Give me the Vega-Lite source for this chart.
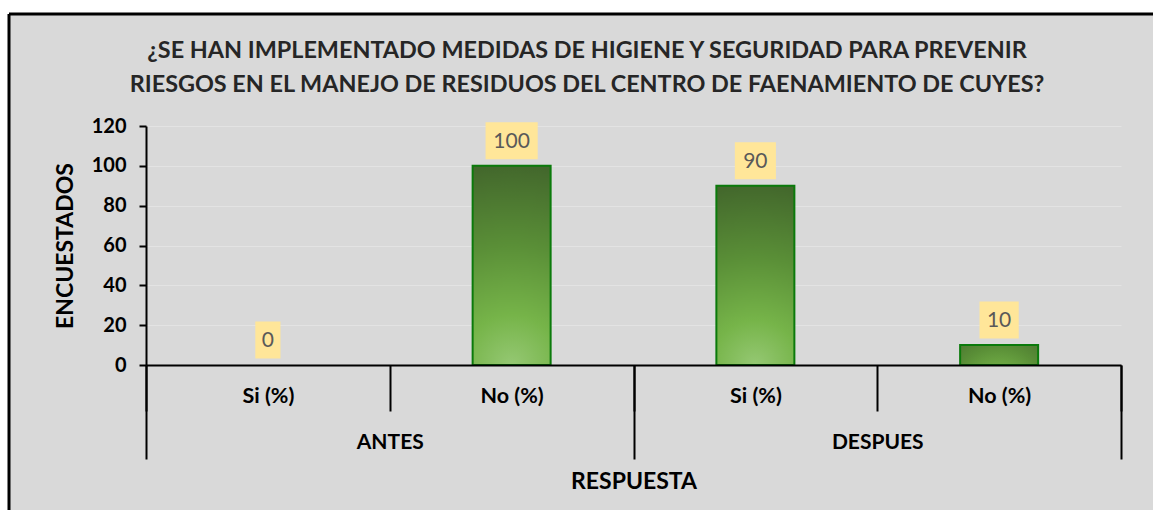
{
  "$schema": "https://vega.github.io/schema/vega-lite/v6.json",
  "autosize": "none",
  "padding": {"left": 9, "top": 14, "right": 0, "bottom": 0},
  "width": 1144,
  "height": 496,
  "background": "white",
  "config": {
    "view": {"fill": "#d9d9d9", "stroke": "black", "strokeWidth": 3, "strokeDash": [1144, 1640, 496, 0]},
    "font": "Lato"
  },
  "title": {
    "text": ["¿SE HAN IMPLEMENTADO MEDIDAS DE HIGIENE Y SEGURIDAD PARA PREVENIR", "RIESGOS EN EL MANEJO DE RESIDUOS DEL CENTRO DE FAENAMIENTO DE CUYES?"],
    "anchor": "middle",
    "frame": "group",
    "offset": -83,
    "dx": 6,
    "font": "Lato",
    "fontSize": 23.4,
    "fontWeight": "bold",
    "color": "#262626",
    "lineHeight": 34
  },
  "data": {
    "values": [
      {"clave": "Si (%)|ANTES", "respuesta": "Si (%)", "momento": "ANTES", "encuestados": 0},
      {"clave": "No (%)|ANTES", "respuesta": "No (%)", "momento": "ANTES", "encuestados": 100},
      {"clave": "Si (%)|DESPUES", "respuesta": "Si (%)", "momento": "DESPUES", "encuestados": 90},
      {"clave": "No (%)|DESPUES", "respuesta": "No (%)", "momento": "DESPUES", "encuestados": 10}
    ]
  },
  "encoding": {
    "y": {
      "field": "encuestados",
      "type": "quantitative",
      "scale": {"domain": [0, 120], "range": [351, 112], "nice": false, "zero": true},
      "axis": {
        "values": [0, 20, 40, 60, 80, 100, 120],
        "offset": -137,
        "title": "ENCUESTADOS",
        "tickSize": 7,
        "tickWidth": 2,
        "tickColor": "black",
        "domainColor": "black",
        "domainWidth": 2,
        "labelPadding": 13,
        "labelFont": "Lato",
        "labelFontSize": 20,
        "labelFontWeight": "bold",
        "labelColor": "black",
        "titleFont": "Lato",
        "titleFontSize": 23,
        "titleFontWeight": "bold",
        "titleColor": "black",
        "titlePadding": 14,
        "grid": true,
        "gridColor": "#e3e3e3",
        "gridWidth": 1
      }
    }
  },
  "layer": [
    {
      "encoding": {
        "x": {
          "field": "clave",
          "type": "nominal",
          "sort": null,
          "scale": {"domain": ["Si (%)|ANTES", "No (%)|ANTES", "Si (%)|DESPUES", "No (%)|DESPUES"], "range": [137, 1112], "paddingInner": 0, "paddingOuter": 0},
          "axis": {
            "orient": "bottom",
            "offset": -145,
            "title": null,
            "labelExpr": "datum.value ? split(datum.value, '|')[0] : ''",
            "tickBand": "extent",
            "tickSize": 46,
            "tickWidth": 2,
            "tickColor": "black",
            "domainColor": "black",
            "domainWidth": 2,
            "labelBaseline": "middle",
            "labelPadding": -15,
            "labelFont": "Lato",
            "labelFontSize": 21.5,
            "labelFontWeight": "bold",
            "labelColor": "black",
            "labelAngle": 0,
            "grid": false,
            "zindex": 1
          }
        }
      },
      "layer": [
        {
          "transform": [{"filter": "datum.encuestados > 0"}],
          "mark": {
            "type": "bar",
            "width": {"band": 0.32},
            "fill": {
              "gradient": "radial",
              "x1": 0.5, "y1": 1, "r1": 0,
              "x2": 0.5, "y2": 1, "r2": 1,
              "stops": [
                {"offset": 0, "color": "#95c873"},
                {"offset": 0.25, "color": "#76b449"},
                {"offset": 0.6, "color": "#5a8f37"},
                {"offset": 1, "color": "#43682c"}
              ]
            },
            "stroke": "#0b7a0b",
            "strokeWidth": 2
          }
        },
        {
          "mark": {"type": "point", "filled": true, "fill": "#ffe699", "opacity": 1, "strokeWidth": 0, "size": 1369, "yOffset": -25},
          "encoding": {
            "shape": {
              "field": "clave",
              "type": "nominal",
              "scale": {
                "domain": ["Si (%)|ANTES", "No (%)|ANTES", "Si (%)|DESPUES", "No (%)|DESPUES"],
                "range": ["M-0.68,-1L0.68,-1L0.68,1L-0.68,1Z", "M-1.41,-1L1.41,-1L1.41,1L-1.41,1Z", "M-1.11,-1L1.11,-1L1.11,1L-1.11,1Z", "M-1.06,-1L1.06,-1L1.06,1L-1.06,1Z"]
              },
              "legend": null
            }
          }
        },
        {
          "mark": {"type": "text", "yOffset": -24, "baseline": "middle", "align": "center", "font": "Lato", "fontSize": 21, "color": "#595959"},
          "encoding": {"text": {"field": "encuestados", "type": "quantitative"}}
        }
      ]
    },
    {
      "mark": {"type": "point", "opacity": 0},
      "encoding": {
        "x": {
          "field": "momento",
          "type": "nominal",
          "sort": null,
          "scale": {"domain": ["ANTES", "DESPUES"], "range": [137, 1112], "paddingInner": 0, "paddingOuter": 0},
          "axis": {
            "orient": "bottom",
            "offset": -145,
            "title": "RESPUESTA",
            "tickBand": "extent",
            "tickSize": 94,
            "tickWidth": 2,
            "tickColor": "black",
            "domain": false,
            "labelExpr": "datum.value ? datum.value : ''",
            "labelBaseline": "middle",
            "labelPadding": -17,
            "labelFont": "Lato",
            "labelFontSize": 21,
            "labelFontWeight": "bold",
            "labelColor": "black",
            "labelAngle": 0,
            "titleFont": "Lato",
            "titleFontSize": 23,
            "titleFontWeight": "bold",
            "titleColor": "black",
            "titlePadding": 10,
            "grid": false,
            "zindex": 1
          }
        }
      }
    }
  ],
  "resolve": {"scale": {"x": "independent"}, "axis": {"x": "independent"}}
}
